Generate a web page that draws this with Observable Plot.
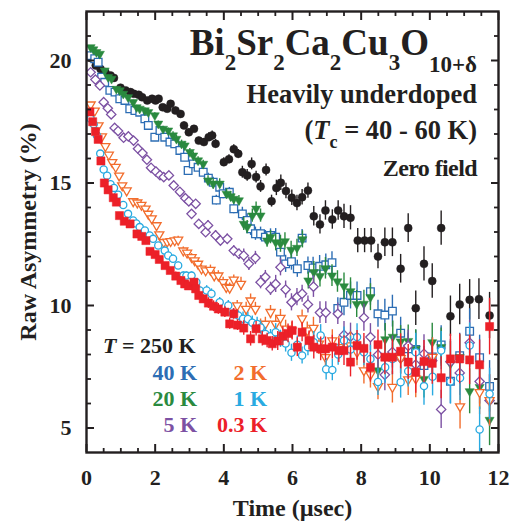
<!DOCTYPE html>
<html>
<head>
<meta charset="utf-8">
<script src="https://cdn.jsdelivr.net/npm/d3@7"></script>
<script src="https://cdn.jsdelivr.net/npm/@observablehq/plot@0.6"></script>
<style>
  body { margin: 0; background: white; }
</style>
</head>
<body>
<div id="chart"></div>
<script>
// ---- Data (time in µs, raw asymmetry in %) ----
const s250 = [[0.12,20.1],[0.27,19.8],[0.41,19.65],[0.55,19.52],[0.70,19.39],[0.80,19.29],[0.99,18.89],[1.14,18.78],[1.28,18.71],[1.38,18.64],[1.52,18.60],[1.62,18.50],[1.77,18.37],[1.91,18.44],[2.01,18.37],[2.10,18.44],[2.22,18.09],[2.35,18.03],[2.45,18.23],[2.59,17.96],[2.74,17.82],[2.84,17.35],[2.98,17.07],[3.13,17.21],[3.27,16.73],[3.42,16.67],[3.56,16.87],[3.66,16.94],[3.76,16.60],[4.00,15.85],[4.15,15.97],[4.29,16.38],[4.42,16.19],[4.54,15.44],[4.68,15.31],[4.81,15.78],[4.94,15.24],[5.07,14.86],[5.23,15.53],[5.39,14.26],[5.53,14.80],[5.66,15.01],[5.81,14.67],[5.98,14.40],[6.13,14.18],[6.28,14.42],[6.45,14.69],[6.62,13.64],[6.80,13.31],[6.96,13.88],[7.16,13.51],[7.33,13.88],[7.50,13.64],[7.69,13.58],[7.90,12.65],[8.10,12.65],[8.29,12.65],[8.49,12.00],[8.69,12.58],[8.91,12.58],[9.15,11.50],[9.37,13.16],[9.59,9.89],[9.83,11.70],[10.07,11.00],[10.33,13.16],[10.60,9.56],[10.87,10.04],[11.16,10.23],[11.43,10.26],[11.74,9.59]];
const s40 = [[0.12,20.20],[0.24,20.07],[0.34,19.93],[0.44,19.32],[0.53,19.11],[0.68,18.78],[0.83,18.71],[0.97,18.44],[1.12,18.37],[1.26,18.03],[1.41,17.96],[1.55,17.89],[1.70,17.62],[1.80,17.35],[1.99,16.87],[2.14,17.14],[2.28,16.87],[2.43,16.67],[2.57,16.60],[2.72,16.33],[2.86,16.05],[2.96,15.51],[3.11,15.78],[3.25,15.64],[3.40,15.44],[3.55,15.20],[3.69,15.03],[3.78,14.30],[3.88,14.83],[3.98,14.56],[4.16,14.62],[4.29,13.95],[4.54,13.74],[4.68,13.47],[4.78,13.13],[4.92,12.93],[5.07,12.93],[5.21,12.79],[5.36,12.86],[5.51,12.79],[5.65,12.18],[5.80,11.70],[5.97,11.79],[6.14,11.50],[6.28,12.75],[6.45,11.63],[6.60,11.53],[6.79,11.60],[6.97,11.66],[7.15,11.75],[7.32,9.88],[7.50,10.13],[7.69,10.41],[7.88,10.41],[8.27,10.56],[8.49,9.66],[8.69,9.61],[8.91,9.77],[9.15,8.87],[9.37,8.23],[9.59,8.21],[9.83,7.55],[10.07,7.90],[10.33,8.39],[10.60,6.91],[10.87,7.95],[11.16,8.95],[11.45,7.87],[11.74,6.70]];
const s20 = [[0.12,20.54],[0.20,20.45],[0.29,20.34],[0.39,20.27],[0.53,19.59],[0.63,19.32],[0.73,19.25],[0.87,18.84],[0.97,18.78],[1.07,18.64],[1.21,18.50],[1.36,18.30],[1.46,18.09],[1.55,18.03],[1.70,17.96],[1.80,17.89],[1.99,17.76],[2.09,17.42],[2.23,17.21],[2.38,17.14],[2.52,16.94],[2.62,16.80],[2.77,16.60],[2.86,16.53],[3.01,16.26],[3.11,16.12],[3.25,15.92],[3.40,15.78],[3.54,15.10],[3.69,14.97],[3.88,14.97],[4.08,14.56],[4.20,14.45],[4.29,14.35],[4.44,14.29],[4.58,13.33],[4.68,13.20],[4.83,13.67],[4.94,13.95],[5.07,13.67],[5.26,12.65],[5.36,12.79],[5.51,12.58],[5.65,12.52],[5.78,12.62],[5.96,12.27],[6.13,12.35],[6.29,12.70],[6.46,11.02],[6.62,11.36],[6.80,11.20],[6.96,11.52],[7.15,11.22],[7.31,10.98],[7.50,10.78],[7.69,10.58],[7.87,10.06],[8.08,10.07],[8.27,10.34],[8.49,7.35],[8.70,8.62],[8.92,8.72],[9.15,8.53],[9.37,8.55],[9.59,8.23],[9.83,7.00],[10.07,8.50],[10.33,8.30],[10.60,7.62],[10.87,7.89],[11.16,6.50],[11.45,6.67],[11.74,5.33]];
const s5 = [[0.12,19.52],[0.26,19.22],[0.39,18.98],[0.50,18.30],[0.62,18.05],[0.72,17.80],[0.82,17.25],[0.92,17.12],[1.08,16.85],[1.22,16.90],[1.37,16.73],[1.50,16.40],[1.63,16.22],[1.76,15.95],[1.88,15.62],[2.02,15.47],[2.14,15.32],[2.25,15.24],[2.40,15.31],[2.54,14.90],[2.72,14.64],[2.88,14.38],[2.98,14.25],[3.06,13.74],[3.18,14.15],[3.27,13.33],[3.47,12.99],[3.54,13.27],[3.76,12.86],[3.90,12.65],[4.10,12.72],[4.29,12.24],[4.44,12.11],[4.58,12.04],[4.73,11.70],[4.92,11.94],[5.07,10.95],[5.21,11.16],[5.36,10.68],[5.51,10.88],[5.65,11.56],[5.80,10.65],[5.97,10.13],[6.13,10.34],[6.28,10.48],[6.45,10.04],[6.61,10.77],[6.80,9.71],[6.97,9.71],[7.32,9.66],[7.50,8.80],[7.69,8.73],[8.08,9.50],[8.27,8.71],[8.49,7.99],[8.69,7.17],[8.91,8.10],[9.15,7.85],[9.37,8.35],[9.59,7.59],[9.83,8.03],[10.07,7.75],[10.33,5.76],[10.60,7.70],[10.87,7.25],[11.16,8.48],[11.45,6.90],[11.74,6.12]];
const s2 = [[0.12,18.20],[0.24,17.95],[0.35,17.35],[0.45,16.90],[0.55,16.50],[0.65,16.15],[0.75,15.85],[0.85,15.65],[0.95,15.30],[1.04,14.90],[1.17,14.69],[1.36,14.25],[1.48,14.20],[1.60,14.10],[1.72,13.95],[1.80,13.74],[1.90,13.55],[2.04,13.27],[2.12,12.90],[2.25,12.58],[2.35,12.60],[2.45,12.62],[2.57,12.65],[2.67,12.68],[2.82,12.24],[2.93,12.15],[3.06,11.97],[3.15,11.84],[3.25,11.70],[3.35,11.50],[3.47,11.43],[3.61,11.45],[3.72,11.22],[3.84,11.22],[3.98,10.95],[4.07,10.75],[4.17,10.72],[4.29,11.05],[4.39,10.00],[4.50,10.88],[4.65,9.86],[4.78,10.20],[4.92,9.86],[5.07,9.18],[5.21,9.25],[5.36,9.73],[5.51,9.25],[5.65,9.49],[5.80,9.05],[5.98,8.98],[6.28,9.47],[6.43,8.98],[6.61,9.08],[6.77,8.44],[6.96,7.89],[7.16,8.57],[7.35,8.30],[7.69,8.37],[7.88,8.09],[8.08,7.35],[8.27,7.18],[8.49,6.70],[8.91,6.67],[9.15,7.85],[9.37,6.98],[9.59,7.01],[10.08,7.90],[10.88,5.88],[11.45,6.46],[11.74,6.13]];
const s1 = [[0.12,17.62],[0.21,17.40],[0.30,16.95],[0.40,16.20],[0.50,15.55],[0.60,15.30],[0.70,14.95],[0.80,14.80],[0.92,14.52],[1.07,14.10],[1.21,13.74],[1.36,13.47],[1.45,13.35],[1.55,13.20],[1.70,13.06],[1.84,12.86],[1.94,12.72],[2.09,12.45],[2.28,12.24],[2.38,12.04],[2.52,11.91],[2.67,11.63],[2.82,11.22],[2.91,11.22],[3.06,11.22],[3.20,10.95],[3.30,10.61],[3.50,10.61],[3.64,10.48],[3.88,10.13],[4.13,10.00],[4.27,9.66],[4.42,9.59],[4.56,9.46],[4.70,9.45],[4.83,9.30],[4.97,9.25],[5.07,9.10],[5.21,8.84],[5.36,8.75],[5.51,8.91],[5.65,8.64],[5.80,8.45],[5.97,8.07],[6.14,8.40],[6.28,7.96],[6.45,8.30],[6.62,8.50],[6.82,8.78],[6.98,7.40],[7.16,7.37],[7.33,8.00],[7.50,8.57],[7.69,8.20],[7.88,8.71],[8.08,8.09],[8.27,7.82],[8.49,6.88],[8.70,7.48],[8.91,7.82],[9.15,6.87],[9.37,7.32],[9.59,8.09],[9.83,6.71],[10.08,7.09],[10.33,8.16],[10.60,6.90],[10.88,7.04],[11.16,8.37],[11.45,4.94],[11.74,6.39]];
const s03 = [[0.10,17.90],[0.18,17.50],[0.26,17.10],[0.34,16.78],[0.42,15.90],[0.52,15.00],[0.63,14.72],[0.78,14.40],[0.87,14.22],[0.96,13.67],[1.10,13.44],[1.27,13.33],[1.47,12.92],[1.61,12.82],[1.73,12.65],[1.85,12.21],[2.00,12.08],[2.12,11.88],[2.29,11.63],[2.44,11.43],[2.60,11.20],[2.75,11.02],[2.86,10.88],[2.97,10.80],[3.13,10.95],[3.18,10.68],[3.27,10.41],[3.40,10.27],[3.55,10.10],[3.70,9.97],[3.84,9.86],[4.03,9.73],[4.17,9.25],[4.29,9.66],[4.40,9.20],[4.58,9.08],[4.78,8.64],[4.94,9.05],[5.12,8.64],[5.26,8.57],[5.41,8.44],[5.57,8.55],[5.72,8.75],[5.87,8.86],[5.99,8.98],[6.14,8.30],[6.28,8.91],[6.48,8.57],[6.62,8.30],[6.82,8.23],[6.96,8.23],[7.16,8.30],[7.35,8.16],[7.50,8.16],[7.69,7.69],[7.88,8.37],[8.08,8.25],[8.27,7.48],[8.49,8.40],[8.69,7.89],[8.91,7.89],[9.15,8.13],[9.37,7.69],[9.59,7.28],[9.83,7.71],[10.07,7.64],[10.33,7.05],[10.60,7.82],[10.87,7.82],[11.16,7.78],[11.45,7.58],[11.74,9.14]];

// error-bar half-widths (%) read at whole µs
const errV = [0.06,0.08,0.11,0.15,0.2,0.27,0.35,0.44,0.55,0.65,0.78,0.92,1.05];

// tick values
const xMajor = [0,2,4,6,8,10,12];
const xMinor = [0.5,1,1.5,2.5,3,3.5,4.5,5,5.5,6.5,7,7.5,8.5,9,9.5,10.5,11,11.5];
const yMajor = [5,10,15,20];
const yMinor = [6,7,8,9,11,12,13,14,16,17,18,19,21];

const labels = ["T = 250 K","40 K","20 K","5 K","2 K","1 K","0.3 K"];

// ---- Styling ----
const C = {k:"#231f20", b:"#2c6db4", g:"#2a8a3f", p:"#7c51a3", o:"#f26d2d", c:"#29aae1", r:"#ec2028"};
const serif = "'Liberation Serif','Times New Roman',serif";
const triDown = { draw(ctx, size) { const s = Math.sqrt(size) * 1.22, h = s * 0.866;
  ctx.moveTo(-s/2, -h/3); ctx.lineTo(s/2, -h/3); ctx.lineTo(0, 2*h/3); ctx.closePath(); } };

const series = [
  {data: s250, color: C.k, symbol: "circle", r: 4, open: false, es: 0.9},
  {data: s40,  color: C.b, symbol: "square", r: 4.3, open: true, es: 1},
  {data: s20,  color: C.g, symbol: triDown, r: 4.2, open: false, es: 1},
  {data: s5,   color: C.p, symbol: "diamond2", r: 4.2, open: true, es: 1},
  {data: s2,   color: C.o, symbol: triDown, r: 4.2, open: true, es: 1},
  {data: s1,   color: C.c, symbol: "circle", r: 3.6, open: true, es: 1},
  {data: s03,  color: C.r, symbol: "square", r: 4.6, open: false, es: 1.1}
];
const err = (t, s) => errV[Math.round(t)] * s;

const seriesMarks = series.flatMap(s => [
  Plot.ruleX(s.data, {x: d => d[0], y1: d => d[1] - err(d[0], s.es), y2: d => d[1] + err(d[0], s.es),
    stroke: s.color, strokeWidth: 1.4, clip: true}),
  Plot.dot(s.data, {x: d => d[0], y: d => d[1], symbol: s.symbol, r: s.r,
    fill: s.open ? "white" : s.color, stroke: s.color, strokeWidth: s.open ? 1.3 : 0.5, clip: true})
]);

const chart = Plot.plot({
  width: 516, height: 521,
  marginLeft: 86, marginRight: 18, marginTop: 11, marginBottom: 69,
  x: {domain: [0, 12]},
  y: {domain: [4, 22]},
  style: {fontFamily: serif, fontWeight: "bold", fontSize: "22px", color: C.k, background: "white"},
  marks: [
    ...seriesMarks,
    Plot.axisX({anchor: "bottom", ticks: xMajor, tickSize: -8, tickPadding: 25, strokeWidth: 2, label: null, tickFormat: d => d}),
    Plot.axisX({anchor: "bottom", ticks: xMinor, tickSize: -4, strokeWidth: 1.8, label: null, tickFormat: () => ""}),
    Plot.axisX({anchor: "top", ticks: xMajor, tickSize: -8, strokeWidth: 2, label: null, tickFormat: () => ""}),
    Plot.axisX({anchor: "top", ticks: xMinor, tickSize: -4, strokeWidth: 1.8, label: null, tickFormat: () => ""}),
    Plot.axisY({anchor: "left", ticks: yMajor, tickSize: -8, tickPadding: 23, strokeWidth: 2, label: null, tickFormat: d => d}),
    Plot.axisY({anchor: "left", ticks: yMinor, tickSize: -5, strokeWidth: 1.8, label: null, tickFormat: () => ""}),
    Plot.axisY({anchor: "right", ticks: yMajor, tickSize: -8, strokeWidth: 2, label: null, tickFormat: () => ""}),
    Plot.axisY({anchor: "right", ticks: yMinor, tickSize: -5, strokeWidth: 1.8, label: null, tickFormat: () => ""}),
    Plot.frame({stroke: C.k, strokeWidth: 2.4}),
    Plot.text(["Time (µsec)"], {text: d => d, frameAnchor: "bottom", lineAnchor: "middle", textAnchor: "middle", dy: 56, fontSize: 24, fill: C.k}),
    Plot.text(["Raw Asymmetry (%)"], {text: d => d, frameAnchor: "left", lineAnchor: "middle", textAnchor: "middle", rotate: -90, dx: -58, fontSize: 24, fill: C.k})
  ]
});
document.getElementById("chart").appendChild(chart);

// ---- Annotations with sub/italic parts ----
const svg = d3.select(chart);
function rich(x, y, anchor, size, color, parts, spacing) {
  const t = svg.append("text").attr("x", x).attr("y", y).attr("text-anchor", anchor)
    .attr("font-family", serif).attr("font-weight", "bold").attr("font-size", size).attr("fill", color);
  if (spacing) t.attr("letter-spacing", spacing);
  for (const p of parts) {
    const s = t.append("tspan").text(p.t);
    if (p.size) s.attr("font-size", p.size);
    if (p.it) s.attr("font-style", "italic");
    if (p.dy) s.attr("dy", p.dy);
  }
}
const sub = (t, dy, size) => ({t, dy, size});
rich(477, 55, "end", 37, C.k, [
  {t: "Bi"}, sub("2", 15, 23), {t: "Sr", dy: -15}, sub("2", 15, 23), {t: "Ca", dy: -15}, sub("2", 15, 23),
  {t: "Cu", dy: -15}, sub("3", 15, 23), {t: "O", dy: -15}, sub("10+δ", 17, 23)
]);
rich(477, 103, "end", 26.5, C.k, [{t: "Heavily underdoped"}]);
rich(477, 139, "end", 26.5, C.k, [{t: "("}, {t: "T", it: true}, sub("c", 9, 18), {t: " = 40 - 60 K)", dy: -9}]);
rich(477, 176, "end", 24, C.k, [{t: "Zero field"}], -0.6);

rich(103, 353, "start", 22, C.k, [{t: "T", it: true}, {t: labels[0].slice(1)}]);
rich(197, 380, "end", 22, C.b, [{t: labels[1]}]);
rich(197, 406, "end", 22, C.g, [{t: labels[2]}]);
rich(197, 432, "end", 22, C.p, [{t: labels[3]}]);
rich(267, 380, "end", 22, C.o, [{t: labels[4]}]);
rich(267, 406, "end", 22, C.c, [{t: labels[5]}]);
rich(267, 432, "end", 22, C.r, [{t: labels[6]}]);
</script>
</body>
</html>
